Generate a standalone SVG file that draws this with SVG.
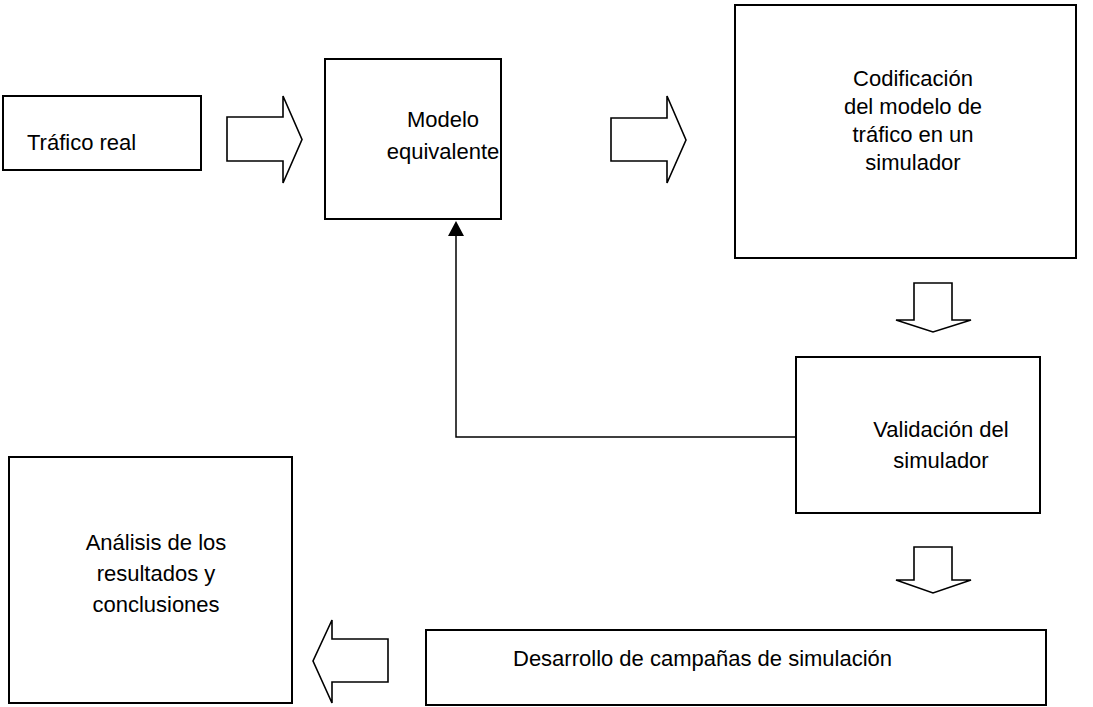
<svg xmlns="http://www.w3.org/2000/svg" width="1093" height="707" viewBox="0 0 1093 707">
<defs>
<style>
.box{fill:#fff;stroke:#000;stroke-width:2}
.blk{fill:#fff;stroke:#000;stroke-width:1.6;stroke-linejoin:miter}
.t{font-family:"Liberation Sans",Arial,sans-serif;font-size:22px;fill:#000}
.c{text-anchor:middle}
.ln{fill:none;stroke:#000;stroke-width:1.5}
</style>
</defs>
<rect width="1093" height="707" fill="#fff"/>
<g id="trafico-real">
<rect class="box" x="3" y="96" width="198" height="74"/>
<text class="t" x="27" y="150">Tráfico real</text>
</g>
<g id="modelo-equivalente">
<rect class="box" x="325" y="59" width="176" height="160"/>
<text class="t c" x="443" y="127">Modelo</text>
<text class="t c" x="443" y="159">equivalente</text>
</g>
<g id="codificacion">
<rect class="box" x="735" y="5" width="341" height="253"/>
<text class="t c" x="913" y="86">Codificación</text>
<text class="t c" x="913" y="114">del modelo de</text>
<text class="t c" x="913" y="142">tráfico en un</text>
<text class="t c" x="913" y="170">simulador</text>
</g>
<g id="validacion">
<rect class="box" x="796" y="357" width="244" height="156"/>
<text class="t c" x="941" y="437">Validación del</text>
<text class="t c" x="941" y="468">simulador</text>
</g>
<g id="desarrollo">
<rect class="box" x="426" y="630" width="620" height="75"/>
<text class="t" x="513" y="666">Desarrollo de campañas de simulación</text>
</g>
<g id="analisis">
<rect class="box" x="9" y="457" width="283" height="246"/>
<text class="t c" x="156" y="550">Análisis de los</text>
<text class="t c" x="156" y="581">resultados y</text>
<text class="t c" x="156" y="612">conclusiones</text>
</g>
<g id="connectors">
<path class="blk" d="M227,117 L283,117 L283,96 L302,139.5 L283,183 L283,161 L227,161 Z"/>
<path class="blk" d="M611,118 L667,118 L667,96 L686,140 L667,183 L667,161 L611,161 Z"/>
<path class="blk" d="M914,283 L952,283 L952,320 L971,320 L933,332 L896,320 L914,320 Z"/>
<path class="blk" d="M914,547 L952,547 L952,580 L971,580 L933,593 L896,580 L914,580 Z"/>
<path class="blk" d="M388,639 L332,639 L332,620 L313,661 L332,703 L332,682 L388,682 Z"/>
<polyline class="ln" points="796,437 456,437 456,236"/>
<path d="M448,236 L456,221 L464,236 Z" fill="#000"/>
</g>
</svg>
